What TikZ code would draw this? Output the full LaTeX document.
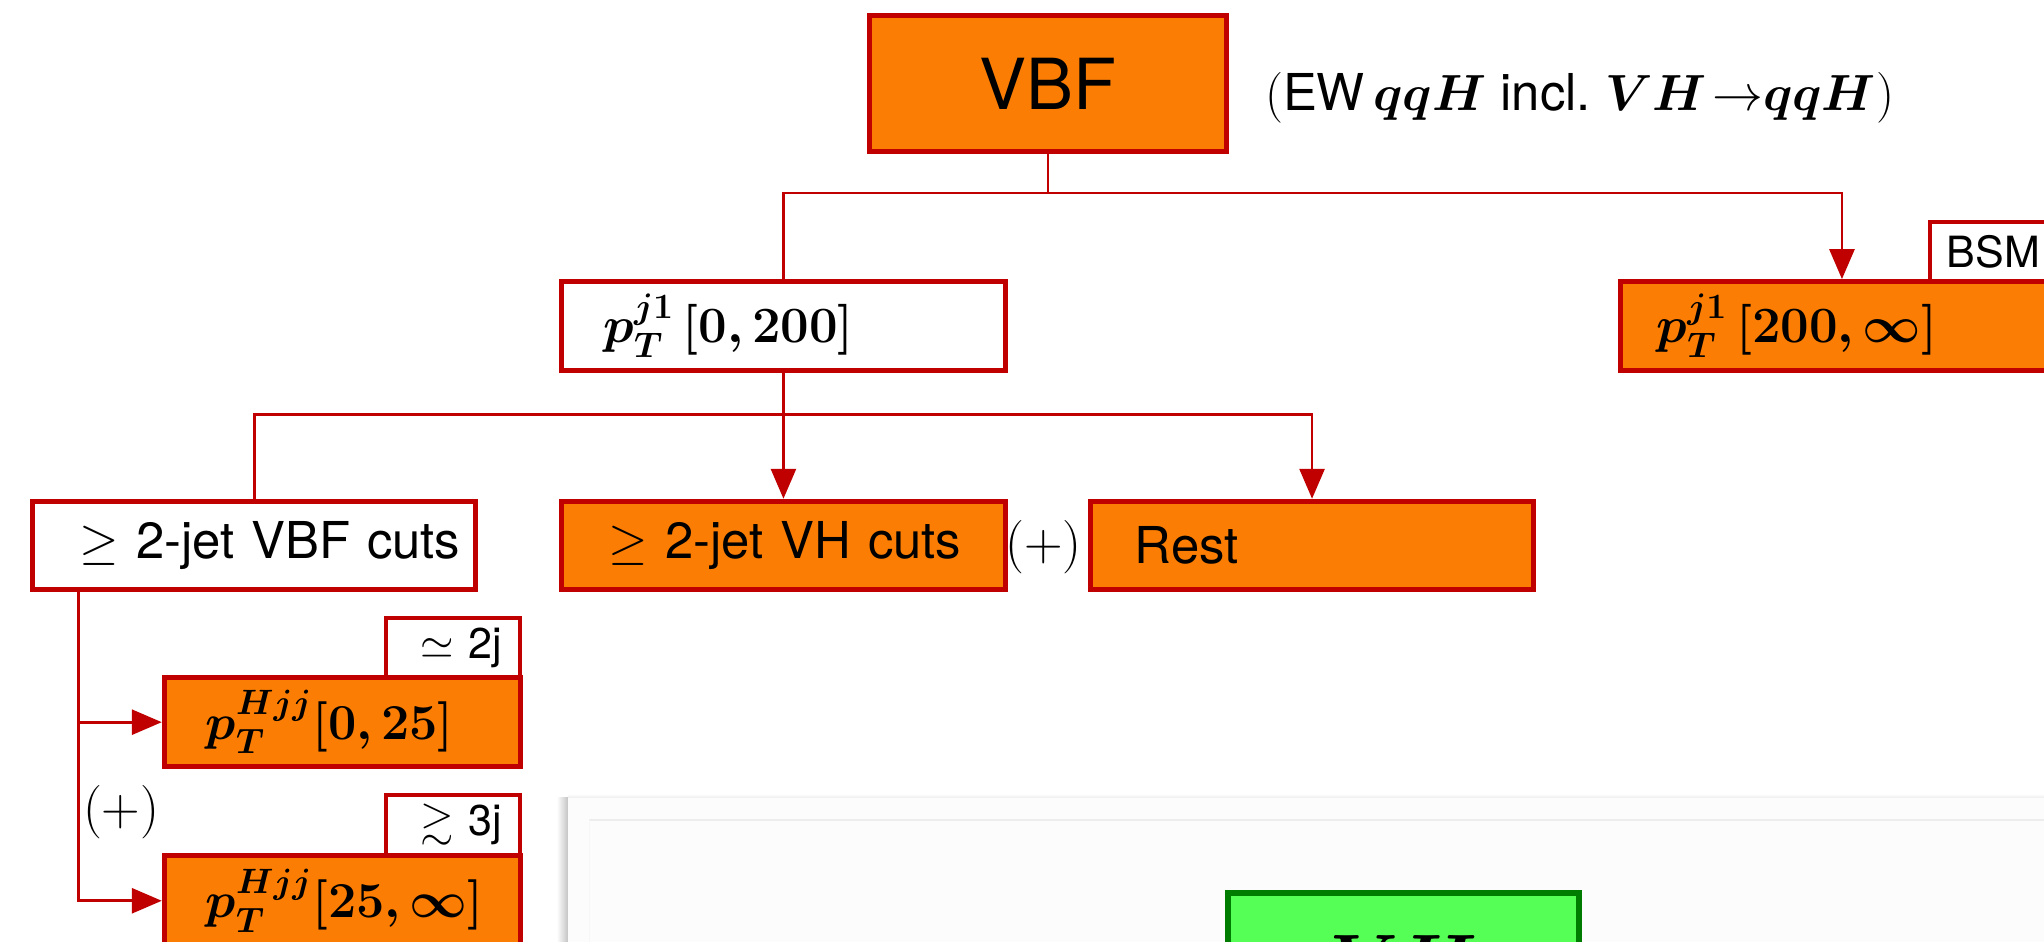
\RequirePackage{fix-cm}
\documentclass[tikz,border=0pt]{standalone}
\usepackage{fontspec}
\usepackage{amsmath,amssymb,bm}
\usetikzlibrary{arrows.meta,calc}
\newfontfamily\helv{TeX Gyre Heros}
\definecolor{boxorange}{RGB}{251,125,4}
\definecolor{boxred}{RGB}{192,0,0}
\definecolor{vhgreen}{RGB}{85,255,85}
\definecolor{vhedge}{RGB}{0,125,0}
\tikzset{
  cat/.style={draw=boxred, line width=1.9pt, inner sep=0pt, minimum height=34pt,
              font=\helv\fontsize{19.5}{22}\selectfont},
  filled/.style={cat, fill=boxorange},
  plain/.style={cat, fill=white},
  tagbox/.style={draw=boxred, line width=1.6pt, fill=white, inner sep=0pt,
              minimum width=51.5pt, minimum height=23pt,
              font=\helv\fontsize{16.5}{18}\selectfont},
  link/.style={draw=boxred, line width=1.05pt},
  arr/.style={link, -{Triangle[length=11.5pt,width=9.6pt]}},
  sign/.style={inner sep=0pt, font=\fontsize{20.5}{24}\selectfont}
}
\begin{document}
\begin{tikzpicture}[x=1pt,y=1pt]
\useasboundingbox (0,0) rectangle (784,-361);

% production mode
\node[filled, minimum width=137pt, minimum height=52pt,
      font=\helv\fontsize{27}{30}\selectfont] (vbf) at (402,-32) {VBF};
\node[anchor=west, inner sep=0pt, font=\helv\fontsize{19.5}{22}\selectfont] (note)
      at (485,-37.5) {$($EW\,$\bm{qqH}$ incl.\ $\bm{VH}\mkern2mu{\rightarrow}\bm{qqH}$$)$};

% leading-jet pT split
\node[tagbox, inner xsep=6.5pt, text width=38.5pt, align=left] (bsm) at (766,-96.5) {BSM};
\node[plain, minimum width=170pt, inner xsep=16pt, text width=138pt, align=left,
      font=\fontsize{19.5}{22}\selectfont]
      (lo) at (300.5,-125) {$\bm{p_T^{j1}\,[0,200]}$};
\node[filled, minimum width=170pt, inner xsep=14pt, text width=142pt, align=left,
      font=\fontsize{19.5}{22}\selectfont]
      (hi) at (706.5,-125) {$\bm{p_T^{j1}\,[200,\infty]}$};

\coordinate (split1) at (402,-74);
\draw[link] (vbf.south) -- (split1);
\draw[arr] (lo.north) |- (split1) -| (hi.north);

% jet topology split
\node[plain, minimum width=170pt, inner xsep=18pt, text width=134pt, align=left]
      (cutvbf) at (97.5,-209.25) {\mbox{$\geq$ 2-jet VBF cuts}};
\node[filled, minimum width=170pt, inner xsep=18pt, text width=134pt, align=left]
      (cutvh) at (300.5,-209.25) {\mbox{$\geq$ 2-jet VH cuts}};
\node[filled, minimum width=170pt, inner xsep=17pt, text width=136pt, align=left]
      (rest) at (503.25,-209.25) {Rest};
\node[sign] (plusmid) at (400.25,-209.8) {$(+)$};

\coordinate (split2) at (300.5,-159);
\draw[link] (lo.south) -- (split2);
\draw[arr] (cutvbf.north) |- (split2) -| (rest.north);
\draw[arr] (split2) -- (cutvh.north);

% Hjj pT split
\node[tagbox, inner xsep=7pt, text width=37.5pt, align=right] (two) at (173.75,-248.5) {$\simeq$ 2j};
\node[tagbox, inner xsep=7pt, text width=37.5pt, align=right] (three) at (173.75,-316.5) {$\gtrsim$ 3j};
\node[filled, minimum width=136.5pt, inner xsep=16pt, text width=104.5pt, align=left,
      font=\fontsize{19.3}{22}\selectfont]
      (hjjlo) at (131.25,-277) {$\bm{p_T^{Hjj}[0,25]}$};
\node[filled, minimum width=136.5pt, minimum height=35pt, inner xsep=16pt, text width=104.5pt, align=left,
      font=\fontsize{19.3}{22}\selectfont]
      (hjjhi) at (131.25,-345.5) {$\bm{p_T^{Hjj}[25,\infty]}$};
\node[sign] (plusleft) at (46.5,-311.5) {$(+)$};

\coordinate (trunk) at ([xshift=-67.25pt]cutvbf.south);
\draw[arr] (trunk) |- (hjjlo.west);
\draw[arr] (trunk) |- (hjjhi.west);

% overlapping panel with the next production mode
\shade[left color=white, right color=black!24] (213.5,-306) rectangle (218,-380);
\shade[top color=white, bottom color=black!7] (218,-304.5) rectangle (800,-306);
\fill[black!1] (218,-306) rectangle (800,-380);
\draw[black!7, line width=0.5pt] (226,-314.5) -- (800,-314.5);
\draw[black!3, line width=0.5pt] (226,-314.5) -- (226,-380);
\node[draw=vhedge, fill=vhgreen, line width=2.2pt, inner sep=0pt,
      minimum width=134.5pt, minimum height=52pt,
      font=\fontsize{28.5}{32}\selectfont] (vh) at (538.25,-368.5) {$\bm{VH}$};
\end{tikzpicture}
\end{document}
